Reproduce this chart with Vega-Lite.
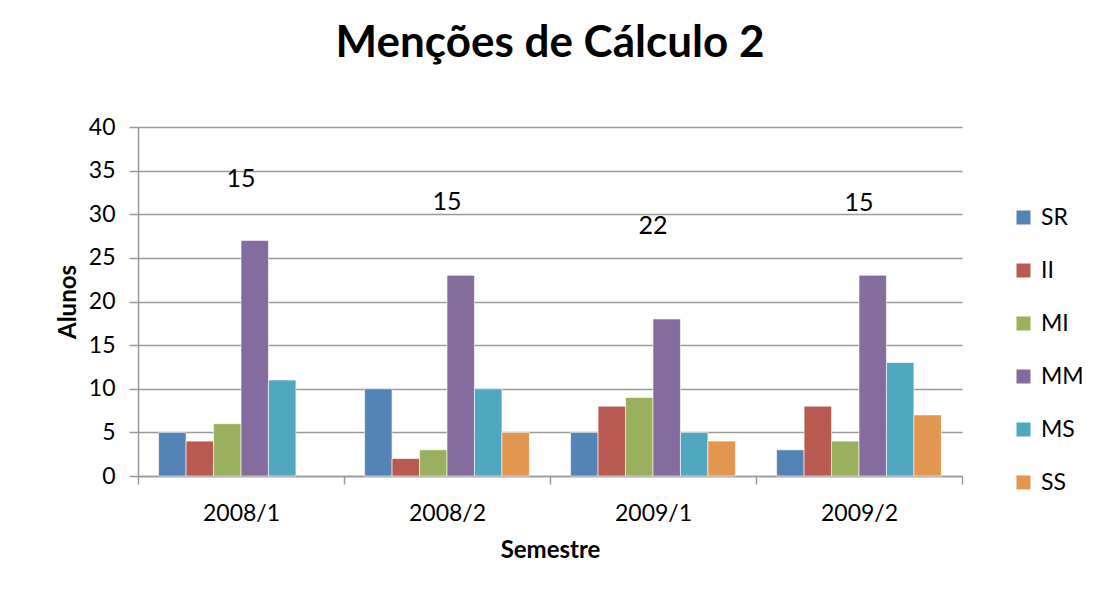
{
  "$schema": "https://vega.github.io/schema/vega-lite/v6.json",
  "width": 824,
  "height": 349,
  "autosize": {"type": "none"},
  "padding": {"left": 138, "top": 127, "right": 145, "bottom": 127},
  "background": "white",
  "title": {"text": "Menções de Cálculo 2", "font": "Lato", "fontSize": 44, "fontWeight": "bold", "color": "black", "anchor": "middle", "offset": 50},
  "config": {"view": {"stroke": null}},
  "datasets": {
    "bars": [
      {"Semestre": "2008/1", "Mencao": "SR", "Alunos": 5},
      {"Semestre": "2008/1", "Mencao": "II", "Alunos": 4},
      {"Semestre": "2008/1", "Mencao": "MI", "Alunos": 6},
      {"Semestre": "2008/1", "Mencao": "MM", "Alunos": 27},
      {"Semestre": "2008/1", "Mencao": "MS", "Alunos": 11},
      {"Semestre": "2008/2", "Mencao": "SR", "Alunos": 10},
      {"Semestre": "2008/2", "Mencao": "II", "Alunos": 2},
      {"Semestre": "2008/2", "Mencao": "MI", "Alunos": 3},
      {"Semestre": "2008/2", "Mencao": "MM", "Alunos": 23},
      {"Semestre": "2008/2", "Mencao": "MS", "Alunos": 10},
      {"Semestre": "2008/2", "Mencao": "SS", "Alunos": 5},
      {"Semestre": "2009/1", "Mencao": "SR", "Alunos": 5},
      {"Semestre": "2009/1", "Mencao": "II", "Alunos": 8},
      {"Semestre": "2009/1", "Mencao": "MI", "Alunos": 9},
      {"Semestre": "2009/1", "Mencao": "MM", "Alunos": 18},
      {"Semestre": "2009/1", "Mencao": "MS", "Alunos": 5},
      {"Semestre": "2009/1", "Mencao": "SS", "Alunos": 4},
      {"Semestre": "2009/2", "Mencao": "SR", "Alunos": 3},
      {"Semestre": "2009/2", "Mencao": "II", "Alunos": 8},
      {"Semestre": "2009/2", "Mencao": "MI", "Alunos": 4},
      {"Semestre": "2009/2", "Mencao": "MM", "Alunos": 23},
      {"Semestre": "2009/2", "Mencao": "MS", "Alunos": 13},
      {"Semestre": "2009/2", "Mencao": "SS", "Alunos": 7}
    ],
    "labels": [
      {"Semestre": "2008/1", "rotulo": "15", "pos": 34.05},
      {"Semestre": "2008/2", "rotulo": "15", "pos": 31.35},
      {"Semestre": "2009/1", "rotulo": "22", "pos": 28.7},
      {"Semestre": "2009/2", "rotulo": "15", "pos": 31.3}
    ]
  },
  "layer": [
    {
      "data": {"name": "bars"},
      "mark": {"type": "bar", "stroke": "white", "strokeOpacity": 0.6, "strokeWidth": 1},
      "encoding": {
        "x": {
          "field": "Semestre", "type": "nominal", "title": "Semestre",
          "scale": {"paddingInner": 0, "paddingOuter": 0},
          "axis": {
            "labelAngle": 0, "labelFont": "Lato", "labelFontSize": 23, "labelColor": "black",
            "tickBand": "extent", "tickSize": 8, "tickColor": "#9a9a9a", "tickWidth": 1.5,
            "domainColor": "#9a9a9a", "domainWidth": 1.5, "labelPadding": 18, "grid": false,
            "titleFont": "Lato", "titleFontSize": 24, "titleFontWeight": "bold", "titleColor": "black", "titlePadding": 13
          }
        },
        "xOffset": {"field": "Mencao", "type": "nominal", "scale": {"domain": ["SR", "II", "MI", "MM", "MS", "SS"], "paddingInner": 0, "paddingOuter": 0.75}},
        "y": {
          "field": "Alunos", "type": "quantitative", "title": "Alunos",
          "scale": {"domain": [0, 40]},
          "axis": {
            "values": [0, 5, 10, 15, 20, 25, 30, 35, 40],
            "labelFont": "Lato", "labelFontSize": 23, "labelColor": "black", "labelPadding": 14,
            "grid": true, "gridColor": "#9a9a9a", "gridWidth": 1.5,
            "tickSize": 9, "tickColor": "#9a9a9a", "tickWidth": 1.5,
            "domainColor": "#9a9a9a", "domainWidth": 1.5,
            "titleFont": "Lato", "titleFontSize": 24, "titleFontWeight": "bold", "titleColor": "black", "titlePadding": 8
          }
        },
        "color": {
          "field": "Mencao", "type": "nominal",
          "scale": {"domain": ["SR", "II", "MI", "MM", "MS", "SS"], "range": ["#5383B7", "#B95A52", "#9BB05E", "#856C9E", "#50A8C0", "#E2964F"]},
          "legend": {
            "title": null, "orient": "none", "legendX": 874, "legendY": 79,
            "symbolType": "square", "symbolSize": 196, "symbolStrokeWidth": 0,
            "labelFont": "Lato", "labelFontSize": 23, "labelColor": "black", "labelOffset": 6, "rowPadding": 29
          }
        }
      }
    },
    {
      "data": {"name": "labels"},
      "mark": {"type": "text", "font": "Lato", "fontSize": 25, "color": "black"},
      "encoding": {
        "x": {"field": "Semestre", "type": "nominal"},
        "y": {"field": "pos", "type": "quantitative"},
        "text": {"field": "rotulo"}
      }
    }
  ]
}
